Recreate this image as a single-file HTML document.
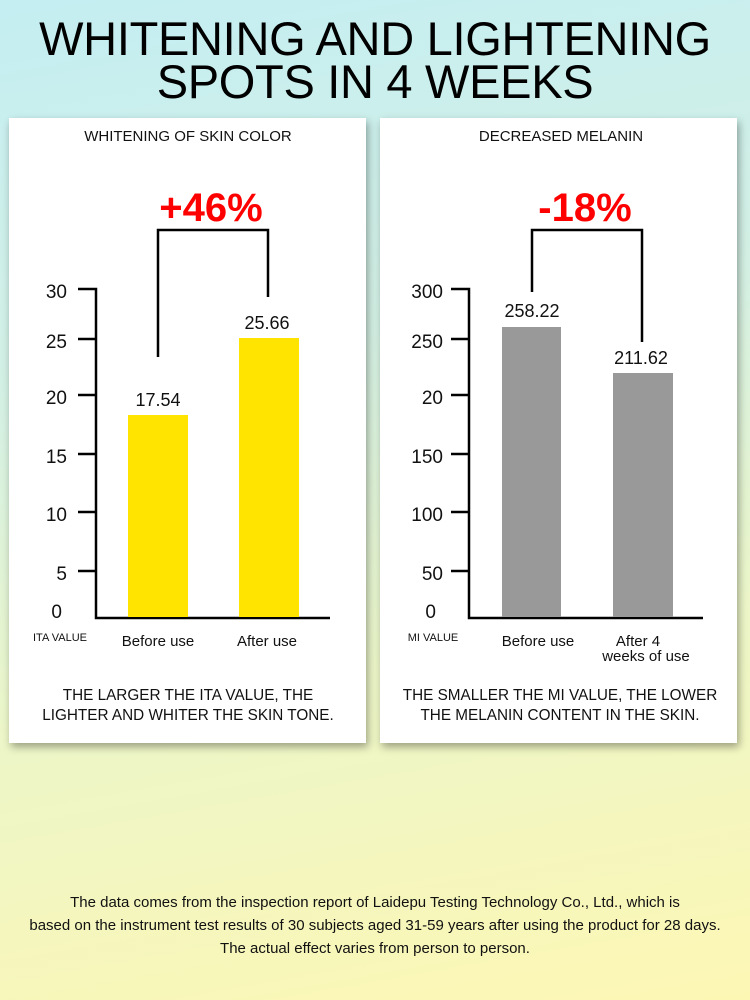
<!DOCTYPE html>
<html><head><meta charset="utf-8"><style>
body{margin:0;width:750px;height:1000px;overflow:hidden;font-family:"Liberation Sans",sans-serif;
background:linear-gradient(170deg,#c4eef2 0%,#d4f0e4 35%,#ecf6c8 65%,#fdf7b4 100%);position:relative}
.t{position:absolute;left:0;width:750px;text-align:center;font-size:47px;line-height:43px;top:17px;color:#000;letter-spacing:-0.3px}
.card{position:absolute;top:118px;width:357px;height:625px;background:#fff;box-shadow:2px 4px 8px rgba(0,0,0,0.35)}
svg{position:absolute;left:0;top:0}
.foot{position:absolute;left:0;width:750px;top:891px;text-align:center;font-size:15px;line-height:23px;color:#111}
</style></head><body>
<div class="t">WHITENING AND LIGHTENING<br>SPOTS IN 4 WEEKS</div>
<div class="card" style="left:9px"></div>
<div class="card" style="left:380px"></div>
<svg width="750" height="1000" font-family="Liberation Sans, sans-serif">
<g font-size="15" text-anchor="middle" fill="#111">
<text x="188" y="141">WHITENING OF SKIN COLOR</text>
<text x="561" y="141">DECREASED MELANIN</text>
</g>
<g font-size="40" font-weight="bold" fill="#f00" text-anchor="middle">
<text x="211" y="221">+46%</text>
<text x="585" y="221">-18%</text>
</g>
<g stroke="#000" stroke-width="2.5" fill="none">
<polyline points="158,357 158,230 268,230 268,297"/>
<polyline points="532,292 532,230 642,230 642,342"/>
<polyline points="78,289 96,289 96,618 330,618"/>
<line x1="78" y1="339" x2="96" y2="339"/><line x1="78" y1="395" x2="96" y2="395"/><line x1="78" y1="454" x2="96" y2="454"/><line x1="78" y1="512" x2="96" y2="512"/><line x1="78" y1="571" x2="96" y2="571"/>
<polyline points="451,289 469,289 469,618 703,618"/>
<line x1="451" y1="339" x2="469" y2="339"/><line x1="451" y1="395" x2="469" y2="395"/><line x1="451" y1="454" x2="469" y2="454"/><line x1="451" y1="512" x2="469" y2="512"/><line x1="451" y1="571" x2="469" y2="571"/>
</g>
<rect x="128" y="415" width="60" height="202" fill="#ffe400"/>
<rect x="239" y="338" width="60" height="279" fill="#ffe400"/>
<rect x="502" y="327" width="59" height="290" fill="#999"/>
<rect x="613" y="373" width="60" height="244" fill="#999"/>
<g font-size="19" text-anchor="end" fill="#111">
<text x="67" y="298">30</text><text x="67" y="348">25</text><text x="67" y="404">20</text><text x="67" y="463">15</text><text x="67" y="521">10</text><text x="67" y="580">5</text><text x="62" y="618">0</text>
<text x="443" y="298">300</text><text x="443" y="348">250</text><text x="443" y="404">20</text><text x="443" y="463">150</text><text x="443" y="521">100</text><text x="443" y="580">50</text><text x="436" y="618">0</text>
</g>
<g font-size="18" text-anchor="middle" fill="#111">
<text x="158" y="406">17.54</text><text x="267" y="329">25.66</text>
<text x="532" y="317">258.22</text><text x="641" y="364">211.62</text>
</g>
<g font-size="15" text-anchor="middle" fill="#111">
<text x="158" y="646">Before use</text><text x="267" y="646">After use</text>
<text x="538" y="646">Before use</text><text x="638" y="646">After 4</text><text x="646" y="661">weeks of use</text>
<text x="188" y="700" font-size="15.3">THE LARGER THE ITA VALUE, THE</text>
<text x="188" y="720" font-size="15.3">LIGHTER AND WHITER THE SKIN TONE.</text>
<text x="560" y="700" font-size="15.3">THE SMALLER THE MI VALUE, THE LOWER</text>
<text x="560" y="720" font-size="15.3">THE MELANIN CONTENT IN THE SKIN.</text>
</g>
<g font-size="11" text-anchor="middle" fill="#111">
<text x="60" y="641">ITA VALUE</text><text x="433" y="641">MI VALUE</text>
</g>
</svg>
<div class="foot">The data comes from the inspection report of Laidepu Testing Technology Co., Ltd., which is<br>based on the instrument test results of 30 subjects aged 31-59 years after using the product for 28 days.<br>The actual effect varies from person to person.</div>
</body></html>
